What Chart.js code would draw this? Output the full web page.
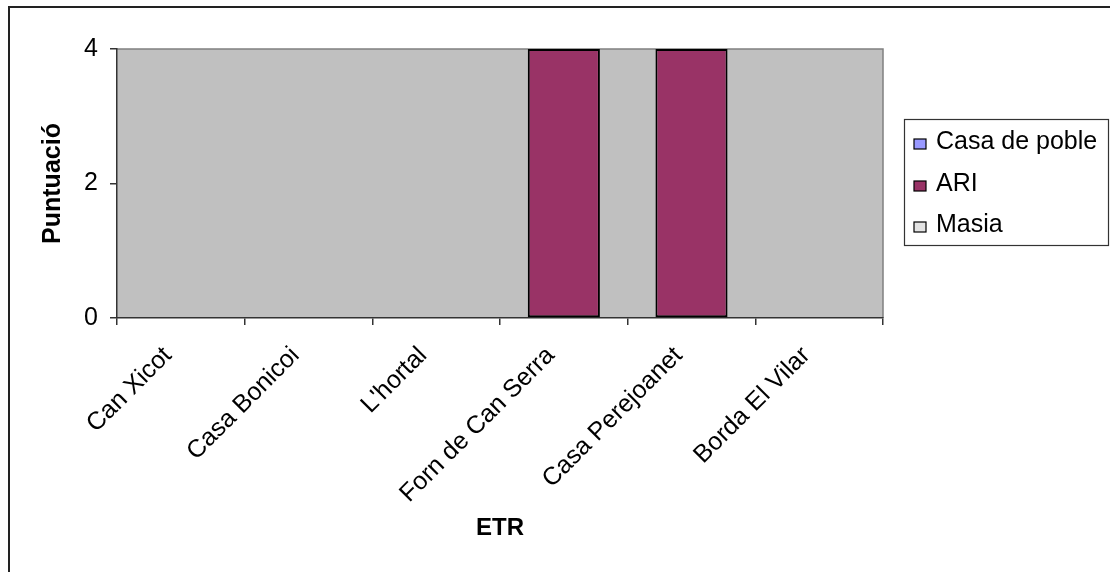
<!DOCTYPE html>
<html><head><meta charset="utf-8">
<script src="https://cdn.jsdelivr.net/npm/chart.js@4.4.1/dist/chart.umd.min.js"></script>
<style>html,body{margin:0;padding:0;background:#fff;overflow:hidden}canvas{display:block}</style>
</head><body>
<canvas id="c" width="1110" height="572"></canvas>
<script>
const categories = ["Can Xicot", "Casa Bonicoi", "L'hortal", "Forn de Can Serra", "Casa Perejoanet", "Borda El Vilar"];
const seriesNames = ["Casa de poble", "ARI", "Masia"];
const casaDePoble = [0, 0, 0, 0, 0, 0];
const ari = [0, 0, 0, 4, 4, 0];
const masia = [0, 0, 0, 0, 0, 0];
const yTicks = [0, 2, 4];
const colors = ["#9999FF", "#993366", "#E3E3E3"];

const FONT = "'Liberation Sans', Arial, sans-serif";

const framePlugin = {
  id: 'frame',
  beforeDraw(chart) {
    const ctx = chart.ctx, a = chart.chartArea;
    ctx.save();
    ctx.fillStyle = '#fff';
    ctx.fillRect(0, 0, chart.width, chart.height);
    ctx.strokeStyle = '#222';
    ctx.lineWidth = 2;
    ctx.beginPath();
    ctx.moveTo(9, chart.height + 5);
    ctx.lineTo(9, 7);
    ctx.lineTo(chart.width + 5, 7);
    ctx.stroke();
    ctx.fillStyle = '#C0C0C0';
    ctx.fillRect(a.left, a.top, a.right - a.left, a.bottom - a.top);
    ctx.strokeStyle = '#808080';
    ctx.lineWidth = 1.5;
    ctx.beginPath();
    ctx.moveTo(a.left, a.top);
    ctx.lineTo(a.right, a.top);
    ctx.lineTo(a.right, a.bottom);
    ctx.stroke();
    ctx.restore();
  },
  afterDraw(chart) {
    const ctx = chart.ctx;
    ctx.save();
    const lx = 904, ly = 119, lw = 204, lh = 126;
    ctx.strokeStyle = '#333';
    ctx.lineWidth = 1.2;
    ctx.strokeRect(lx + 0.5, ly + 0.5, lw, lh);
    const baselines = [149, 191, 232];
    ctx.font = "25px " + FONT;
    ctx.textBaseline = 'alphabetic';
    ctx.textAlign = 'left';
    chart.data.datasets.forEach((ds, i) => {
      const by = baselines[i];
      ctx.fillStyle = ds.backgroundColor;
      ctx.fillRect(914, by - 10, 12, 10);
      ctx.strokeStyle = '#000';
      ctx.lineWidth = 1.2;
      ctx.strokeRect(914, by - 10, 12, 10);
      ctx.fillStyle = '#000';
      ctx.fillText(ds.label, 936, by);
    });
    ctx.restore();
  }
};

new Chart(document.getElementById('c'), {
  type: 'bar',
  data: {
    labels: categories,
    datasets: [
      { label: seriesNames[0], data: casaDePoble, backgroundColor: colors[0], borderColor: '#000', borderWidth: 1.5 },
      { label: seriesNames[1], data: ari, backgroundColor: colors[1], borderColor: '#000', borderWidth: 2 },
      { label: seriesNames[2], data: masia, backgroundColor: colors[2], borderColor: '#000', borderWidth: 1.5 }
    ]
  },
  options: {
    responsive: false,
    animation: false,
    devicePixelRatio: 1,
    layout: { padding: { left: 34, top: 49, right: 227, bottom: 25 } },
    datasets: { bar: { barPercentage: 0.565, categoryPercentage: 1.0, borderSkipped: false } },
    plugins: { legend: { display: false }, tooltip: { enabled: false } },
    scales: {
      x: {
        stacked: true,
        afterFit(s) { s.height = 229; },
        grid: { offset: true, drawOnChartArea: false, tickLength: 7, color: '#333', lineWidth: 1.5 },
        border: { color: '#333', width: 1.5 },
        ticks: { autoSkip: false, maxRotation: 45, minRotation: 45, padding: 16, labelOffset: -13, color: '#000', font: { family: FONT, size: 25 } },
        title: { display: true, text: 'ETR', color: '#000', padding: { top: 4, bottom: 4 }, font: { family: FONT, size: 24, weight: 'bold' } }
      },
      y: {
        stacked: true,
        min: 0, max: 4,
        afterFit(s) { s.width = 83; },
        afterBuildTicks(s) { s.ticks = yTicks.map(v => ({ value: v })); },
        grid: { drawOnChartArea: false, tickLength: 7, color: '#333', lineWidth: 1.5 },
        border: { color: '#333', width: 1.5 },
        ticks: { padding: 12, color: '#000', font: { family: FONT, size: 25 } },
        title: { display: true, text: 'Puntuació', color: '#000', padding: { top: 4, bottom: 4 }, font: { family: FONT, size: 25, weight: 'bold' } }
      }
    }
  },
  plugins: [framePlugin]
});
</script>
</body></html>
